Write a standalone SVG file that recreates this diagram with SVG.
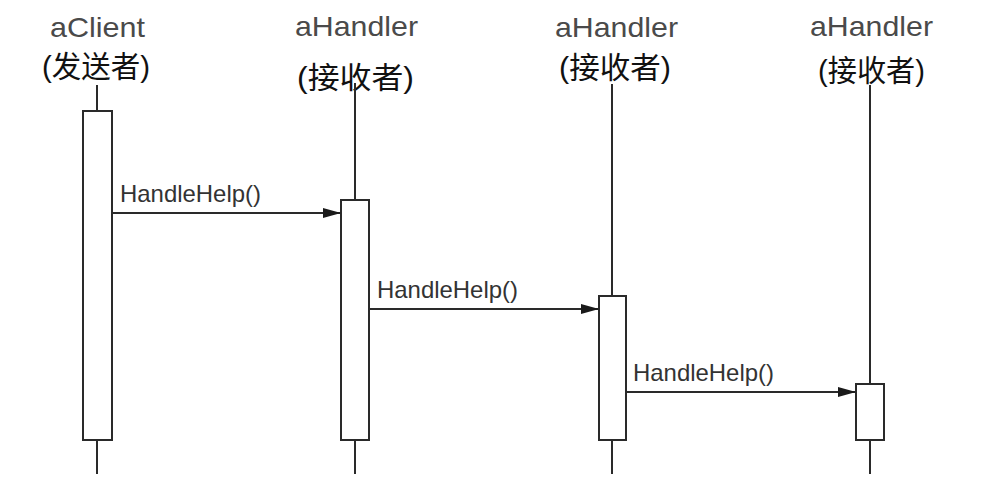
<svg xmlns="http://www.w3.org/2000/svg" width="986" height="504" viewBox="0 0 986 504">
<style>
.bg{fill:#ffffff}
.name{font-family:"Liberation Sans",Arial,sans-serif;font-size:28px;fill:#4a4a4a}
.role{font-family:"Liberation Sans","Noto Sans CJK SC",sans-serif;font-size:30px;fill:#111111}
.msg{font-family:"Liberation Sans",Arial,sans-serif;font-size:24px;fill:#333333}
.life{stroke:#2a2a2a;stroke-width:2;fill:none}
.act{fill:#ffffff;stroke:#2a2a2a;stroke-width:2}
.arrow{stroke:#2a2a2a;stroke-width:2;fill:none;marker-end:url(#ah)}
</style>
<defs>
<marker id="ah" markerWidth="18" markerHeight="10" refX="18" refY="5" orient="auto" markerUnits="userSpaceOnUse">
<path d="M0,0 L18,5 L0,10 Z" fill="#1a1a1a"/>
</marker>
</defs>
<rect class="bg" x="0" y="0" width="986" height="504"/>
<g id="client">
<text class="name" x="50" y="37" textLength="95" lengthAdjust="spacingAndGlyphs">aClient</text>
<text class="role" x="42" y="77" textLength="108" lengthAdjust="spacingAndGlyphs">(发送者)</text>
<line class="life" x1="97" y1="85" x2="97" y2="474"/>
<rect class="act" x="83" y="111" width="29" height="329"/>
</g>
<g id="handler1">
<text class="name" x="295" y="36" textLength="123" lengthAdjust="spacingAndGlyphs">aHandler</text>
<text class="role" x="297" y="88" textLength="117" lengthAdjust="spacingAndGlyphs">(接收者)</text>
<line class="life" x1="355" y1="83" x2="355" y2="474"/>
<rect class="act" x="341" y="200" width="28" height="240"/>
</g>
<g id="handler2">
<text class="name" x="555" y="37" textLength="123" lengthAdjust="spacingAndGlyphs">aHandler</text>
<text class="role" x="559" y="78" textLength="112" lengthAdjust="spacingAndGlyphs">(接收者)</text>
<line class="life" x1="612" y1="84" x2="612" y2="474"/>
<rect class="act" x="599" y="296" width="27" height="144"/>
</g>
<g id="handler3">
<text class="name" x="810" y="36" textLength="123" lengthAdjust="spacingAndGlyphs">aHandler</text>
<text class="role" x="818" y="81" textLength="107" lengthAdjust="spacingAndGlyphs">(接收者)</text>
<line class="life" x1="870" y1="85" x2="870" y2="474"/>
<rect class="act" x="856" y="384" width="28" height="56"/>
</g>
<g id="connectors">
<line class="arrow" x1="112" y1="213" x2="341" y2="213"/>
<text class="msg" x="120" y="202" textLength="141" lengthAdjust="spacingAndGlyphs">HandleHelp()</text>
<line class="arrow" x1="369" y1="309" x2="599" y2="309"/>
<text class="msg" x="377" y="298" textLength="141" lengthAdjust="spacingAndGlyphs">HandleHelp()</text>
<line class="arrow" x1="626" y1="392" x2="856" y2="392"/>
<text class="msg" x="633" y="381" textLength="141" lengthAdjust="spacingAndGlyphs">HandleHelp()</text>
</g>
</svg>
